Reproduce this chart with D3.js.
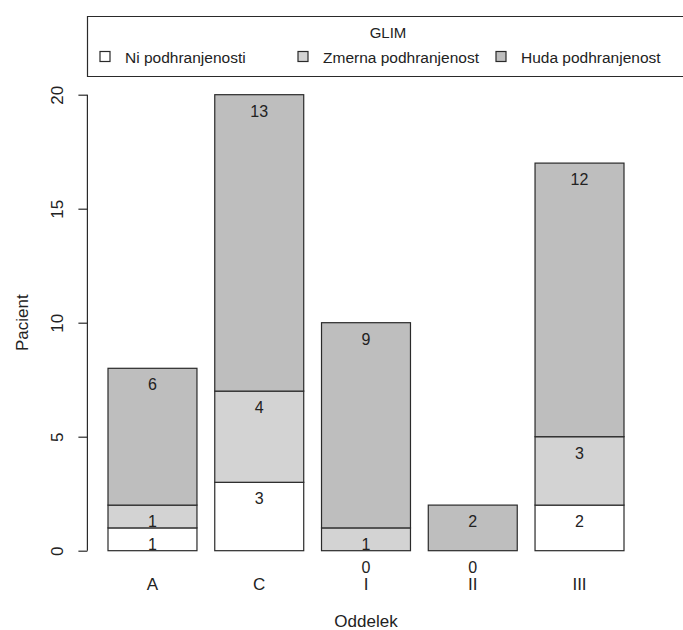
<!DOCTYPE html>
<html>
<head>
<meta charset="utf-8">
<script src="https://cdn.jsdelivr.net/npm/d3@7"></script>
<style>
  html, body { margin: 0; padding: 0; background: #fff; }
  svg { display: block; font-family: "Liberation Sans", Arial, sans-serif; }
</style>
</head>
<body>
<svg id="chart" width="683" height="630"></svg>
<script>
const categories = ["A", "C", "I", "II", "III"];
const seriesNames = ["Ni podhranjenosti", "Zmerna podhranjenost", "Huda podhranjenost"];
const niValues = [1, 3, 0, 0, 2];
const zmernaValues = [1, 4, 1, 0, 3];
const hudaValues = [6, 13, 9, 2, 12];
const yTicks = [0, 5, 10, 15, 20];
const legendTitle = "GLIM";
const xTitle = "Oddelek";
const yTitle = "Pacient";
const colors = ["#ffffff", "#d3d3d3", "#bebebe"];

const svg = d3.select("#chart");
const stroke = "#2a2a2a";

const rows = categories.map((c, i) => ({
  cat: c,
  [seriesNames[0]]: niValues[i],
  [seriesNames[1]]: zmernaValues[i],
  [seriesNames[2]]: hudaValues[i]
}));
const stacked = d3.stack().keys(seriesNames)(rows);

const x = d3.scaleBand().domain(categories).range([108, 624]).paddingInner(1/6).paddingOuter(0);
const y = d3.scaleLinear().domain([0, 20]).range([550.7, 94.7]);
const axisX = 87.4;

// bars
stacked.forEach((layer, li) => {
  svg.append("g").selectAll("rect").data(layer).join("rect")
    .attr("x", d => x(d.data.cat))
    .attr("width", x.bandwidth())
    .attr("y", d => y(d[1]))
    .attr("height", d => y(d[0]) - y(d[1]))
    .attr("fill", colors[li])
    .attr("stroke", stroke)
    .attr("stroke-width", 1.2)
    .attr("display", d => (d[1] - d[0]) > 0 ? null : "none");
});

// value labels (one label per position; coincident zero labels drawn once)
const seen = new Set();
const labels = [];
stacked.forEach((layer) => {
  layer.forEach(d => {
    const key = d.data.cat + "|" + d[1];
    if (seen.has(key)) return;
    seen.add(key);
    labels.push(d);
  });
});
svg.append("g").selectAll("text").data(labels).join("text")
  .attr("x", d => x(d.data.cat) + x.bandwidth() / 2)
  .attr("y", d => y(d[1]) + 16.5)
  .attr("text-anchor", "middle")
  .attr("dominant-baseline", "central")
  .attr("font-size", 16)
  .attr("fill", "#222")
  .text(d => d[1] - d[0]);

// y axis
const yAxis = d3.axisLeft(y).tickValues(yTicks).tickSize(9).tickPadding(12).tickSizeOuter(0);
const gy = svg.append("g").attr("transform", `translate(${axisX},0)`).call(yAxis);
gy.select(".domain").attr("stroke", stroke).attr("stroke-width", 1.2)
  .attr("d", `M0,${y(0)}V${y(20)}`);
gy.selectAll(".tick line").attr("stroke", stroke).attr("stroke-width", 1.2);
gy.selectAll(".tick text")
  .attr("font-size", 17)
  .attr("font-family", "Liberation Sans, Arial, sans-serif")
  .attr("fill", "#222")
  .attr("text-anchor", "middle")
  .attr("dominant-baseline", "central")
  .attr("x", null).attr("dy", null)
  .attr("transform", "translate(-30,0) rotate(-90)");

// x category labels
svg.append("g").selectAll("text").data(categories).join("text")
  .attr("x", d => x(d) + x.bandwidth() / 2)
  .attr("y", 584)
  .attr("text-anchor", "middle")
  .attr("dominant-baseline", "central")
  .attr("font-size", 17)
  .attr("fill", "#222")
  .text(d => d);

// axis titles
svg.append("text")
  .attr("x", 366).attr("y", 621)
  .attr("text-anchor", "middle").attr("dominant-baseline", "central")
  .attr("font-size", 17).attr("fill", "#222")
  .text(xTitle);
svg.append("text")
  .attr("transform", `translate(22,${(y(0) + y(20)) / 2}) rotate(-90)`)
  .attr("text-anchor", "middle").attr("dominant-baseline", "central")
  .attr("font-size", 17).attr("fill", "#222")
  .text(yTitle);

// legend
const lg = svg.append("g");
lg.append("path")
  .attr("d", "M690,16.5H87.5V76.5H690")
  .attr("fill", "none").attr("stroke", stroke).attr("stroke-width", 1.2);
lg.append("text")
  .attr("x", 388).attr("y", 32)
  .attr("text-anchor", "middle").attr("dominant-baseline", "central")
  .attr("font-size", 15).attr("fill", "#222")
  .text(legendTitle);
const legendX = [100, 298, 496];
seriesNames.forEach((name, i) => {
  lg.append("rect")
    .attr("x", legendX[i]).attr("y", 51.5).attr("width", 10).attr("height", 10)
    .attr("fill", colors[i]).attr("stroke", stroke).attr("stroke-width", 1.2);
  lg.append("text")
    .attr("x", legendX[i] + 25).attr("y", 57)
    .attr("dominant-baseline", "central")
    .attr("font-size", 15.5).attr("fill", "#222")
    .text(name);
});
</script>
</body>
</html>
